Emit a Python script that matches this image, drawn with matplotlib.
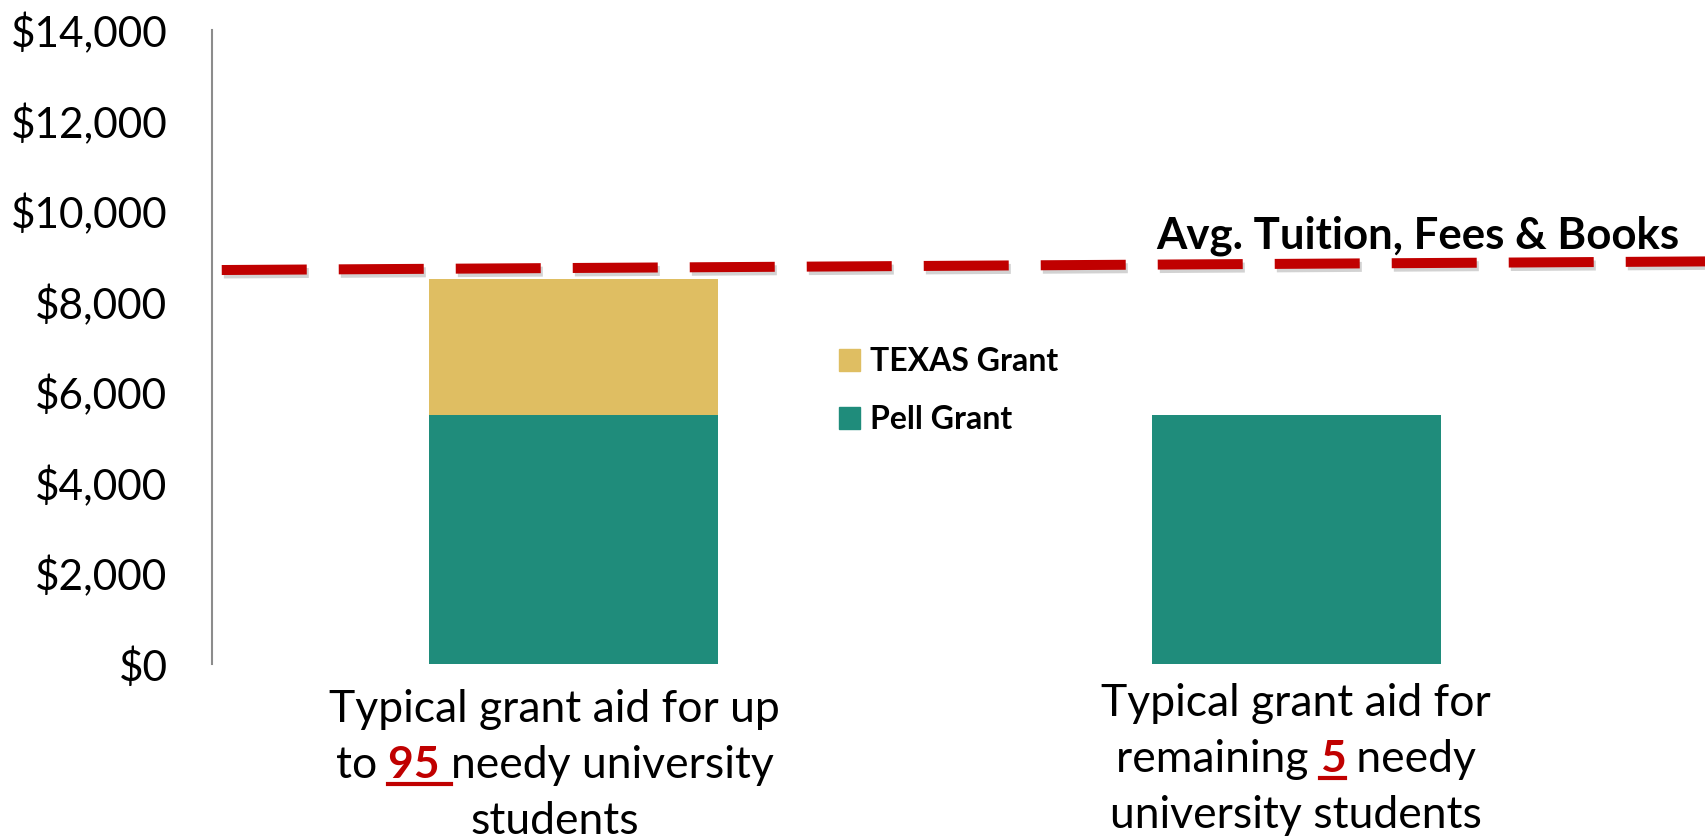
import matplotlib
matplotlib.use('Agg')
import matplotlib.pyplot as plt
import matplotlib.patches as mpatches
import matplotlib.patheffects as pe
from matplotlib.lines import Line2D
from matplotlib.ticker import FuncFormatter
from matplotlib.transforms import IdentityTransform

plt.rcParams['font.family'] = ['Lato', 'DejaVu Sans']

# data
groups = [0, 1]
pell = [5500, 5500]
texas = [3000, 0]
tuition = [8700, 8890]      # dashed line, left end and right end
y_ticks = [0, 2000, 4000, 6000, 8000, 10000, 12000, 14000]

# category labels, (text, highlighted) pieces per line
label_lines = [
    [[('Typical grant aid for up', False)],
     [('to ', False), ('95 ', True), ('needy university', False)],
     [('students', False)]],
    [[('Typical grant aid for', False)],
     [('remaining ', False), ('5', True), (' needy', False)],
     [('university students', False)]],
]

texas_col = '#DFBE62'
pell_col = '#1F8C7B'
red = '#C00000'

W, H = 1705, 839
fig = plt.figure(figsize=(W / 100, H / 100), dpi=100)
ax = fig.add_axes([212 / W, 175 / H, 1 - 212 / W, 634 / H])

ax.bar(groups, pell, width=0.4, color=pell_col, label='Pell Grant', zorder=2)
ax.bar(groups, texas, width=0.4, bottom=pell, color=texas_col, label='TEXAS Grant', zorder=2)

ax.set_xlim(-0.501, 1.566)
ax.set_ylim(0, 14000)
ax.set_yticks(y_ticks)
ax.yaxis.set_major_formatter(FuncFormatter(lambda v, p: '${:,.0f}'.format(v)))
ax.tick_params(axis='y', length=0, pad=32, labelsize=30.5)
ax.set_xticks([])
for s in ['top', 'right', 'bottom']:
    ax.spines[s].set_visible(False)
ax.spines['left'].set_color('#8c8c8c')
ax.spines['left'].set_linewidth(1.5)

# average tuition line
ax.plot([-0.4875, 1.566], tuition, color=red, lw=7.2, linestyle=(0, (8.5, 3.2)),
        dash_capstyle='butt', zorder=3,
        path_effects=[pe.SimpleLineShadow(offset=(1.5, -2.5), shadow_color='gray', alpha=0.35),
                      pe.Normal()])
fig.text(1156 / W, 1 - 248 / H, 'Avg. Tuition, Fees & Books', fontsize=31.5,
         fontweight='bold', ha='left', va='baseline')

# legend
handles = [mpatches.Patch(color=texas_col, label='TEXAS Grant'),
           mpatches.Patch(color=pell_col, label='Pell Grant')]
leg = fig.legend(handles=handles, loc='upper left', bbox_to_anchor=(839 / W, 1 - 347 / H),
                 frameon=False, borderpad=0, borderaxespad=0,
                 handlelength=0.66, handleheight=0.66, handletextpad=0.32, labelspacing=0.92,
                 prop={'weight': 'bold', 'size': 23})

# category labels with red underlined numbers
fig.canvas.draw()
r = fig.canvas.get_renderer()


def text_width(s, **kw):
    t1 = fig.text(0, 0, s + '|', **kw)
    t2 = fig.text(0, 0, '|', **kw)
    w = t1.get_window_extent(r).width - t2.get_window_extent(r).width
    t1.remove()
    t2.remove()
    return w


shifts = [(-19, 0), (0, -6)]
baselines = [722, 778, 834]
for i, lines in enumerate(label_lines):
    cx = ax.transData.transform((groups[i], 0))[0] + shifts[i][0]
    for j, pieces in enumerate(lines):
        y = H - (baselines[j] + shifts[i][1])
        styles = []
        for s, hi in pieces:
            kw = dict(fontsize=32)
            if hi:
                kw.update(color=red, fontweight='bold')
            styles.append((s, hi, kw, text_width(s, **kw)))
        x = cx - sum(st[3] for st in styles) / 2
        for s, hi, kw, w in styles:
            fig.text(x, y, s, transform=IdentityTransform(), ha='left', va='baseline', **kw)
            if hi:
                fig.add_artist(Line2D([x, x + w], [y - 6, y - 6], transform=IdentityTransform(),
                                      color=red, lw=3))
            x += w

fig.savefig('out.png', dpi=100)
